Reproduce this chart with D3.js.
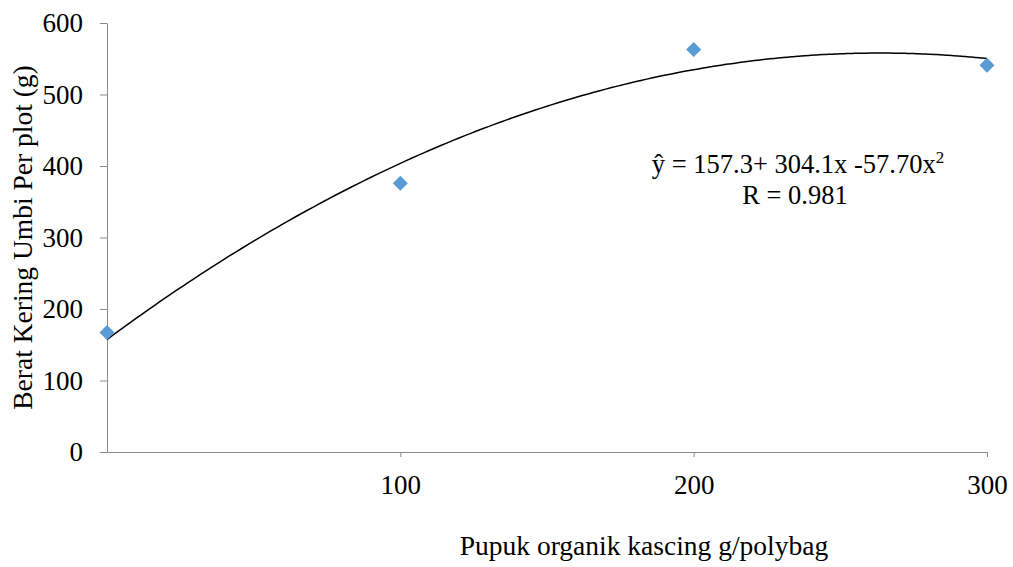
<!DOCTYPE html>
<html>
<head>
<meta charset="utf-8">
<script src="https://cdn.jsdelivr.net/npm/d3@7"></script>
<style>
    body { margin: 0; background: #fff; }
    svg text { font-family: "Liberation Serif", "Times New Roman", serif; fill: #000; }
</style>
</head>
<body>
<div id="chart"></div>
<script>
// dosis kascing (g/polybag) and observed dry weight
const doses = [0, 100, 200, 300];
const weights = [167, 376, 563, 541];
const xTicks = [100, 200, 300];
const yTicks = [0, 100, 200, 300, 400, 500, 600];
// quadratic trend, x in hundreds of g
const coef = [157.3, 304.1, -57.70];

const width = 1013, height = 567;
const margin = { top: 23, right: 26, bottom: 115, left: 107 };
const serif = "'Liberation Serif', 'Times New Roman', serif";

const svg = d3.select("#chart").append("svg")
    .attr("width", width)
    .attr("height", height);

const x = d3.scaleLinear().domain([0, 300]).range([margin.left, width - margin.right]);
const y = d3.scaleLinear().domain([0, 600]).range([height - margin.bottom, margin.top]);

const xAxis = svg.append("g")
    .attr("transform", `translate(0,${y(0)})`)
    .call(d3.axisBottom(x).tickValues(xTicks).tickSize(5).tickPadding(18).tickSizeOuter(0));

const yAxis = svg.append("g")
    .attr("transform", `translate(${x(0)},0)`)
    .call(d3.axisLeft(y).tickValues(yTicks).tickSize(7).tickPadding(17).tickSizeOuter(0));

[xAxis, yAxis].forEach(a => {
    a.attr("font-family", null).attr("font-size", null);
    a.selectAll("path, line").attr("stroke", "#898989");
    a.selectAll("text")
        .style("font-family", serif)
        .style("font-size", "27px");
});

// trend line
const curve = d3.range(0, 300.5, 2).map(d => {
    const t = d / 100;
    return [d, coef[0] + coef[1] * t + coef[2] * t * t];
});
svg.append("path")
    .datum(curve)
    .attr("fill", "none")
    .attr("stroke", "#000")
    .attr("stroke-width", 1.5)
    .attr("d", d3.line().x(d => x(d[0])).y(d => y(d[1])).curve(d3.curveMonotoneX));

// markers
svg.selectAll(".pt")
    .data(doses)
    .enter().append("path")
    .attr("class", "pt")
    .attr("transform", (d, i) => `translate(${x(d)},${y(weights[i])})`)
    .attr("d", "M0,-7.5L7.5,0L0,7.5L-7.5,0Z")
    .attr("fill", "#5b9bd5");

// equation
const eq = svg.append("text")
    .attr("x", 798)
    .attr("y", 173)
    .attr("text-anchor", "middle")
    .style("font-size", "26.5px");
eq.append("tspan").text("ŷ = 157.3+ 304.1x -57.70x");
eq.append("tspan").attr("dy", -10).style("font-size", "17px").text("2");

svg.append("text")
    .attr("x", 795)
    .attr("y", 204)
    .attr("text-anchor", "middle")
    .style("font-size", "26.5px")
    .text("R = 0.981");

// axis titles
svg.append("text")
    .attr("x", 644)
    .attr("y", 555)
    .attr("text-anchor", "middle")
    .style("font-size", "27.5px")
    .text("Pupuk organik kascing g/polybag");

svg.append("text")
    .attr("transform", `translate(32,${(margin.top + y(0)) / 2}) rotate(-90)`)
    .attr("text-anchor", "middle")
    .style("font-size", "27.5px")
    .text("Berat Kering Umbi Per plot (g)");
</script>
</body>
</html>
